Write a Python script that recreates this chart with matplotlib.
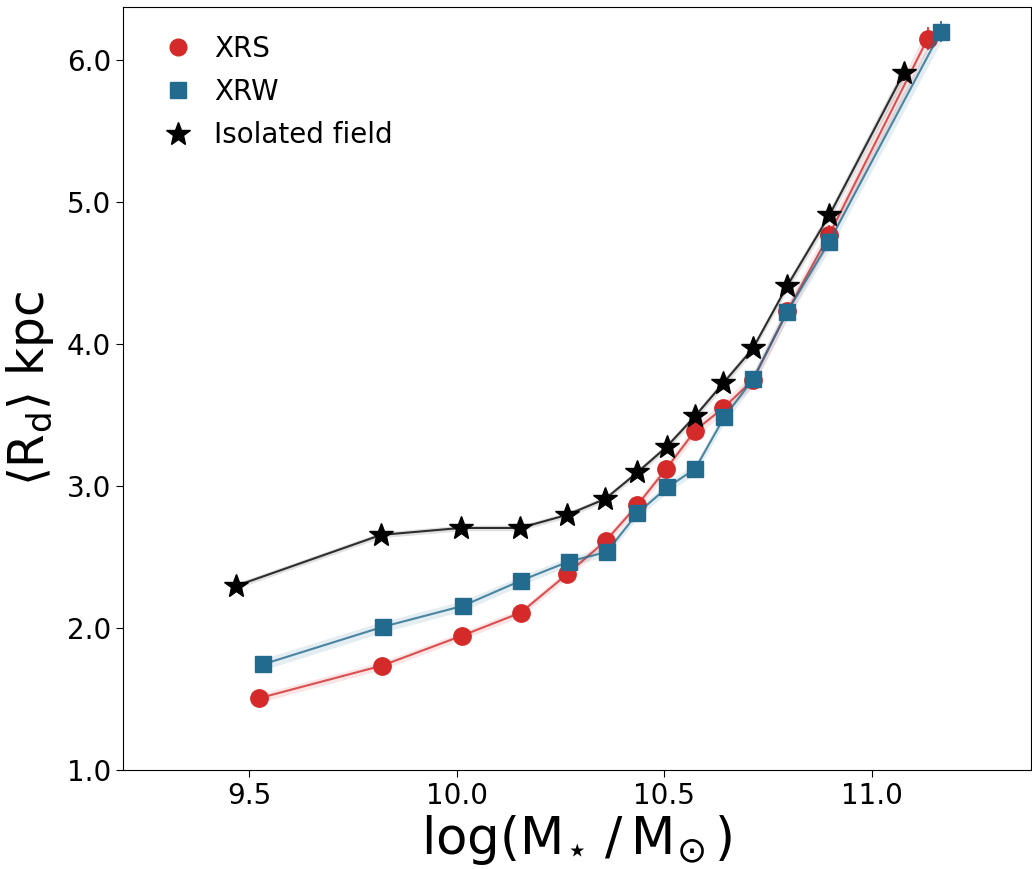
import matplotlib
matplotlib.use("Agg")
import matplotlib.pyplot as plt
import numpy as np
from matplotlib.lines import Line2D

# mean disc scale length per stellar-mass bin
XRS_MASS = [9.524, 9.821, 10.012, 10.155, 10.267, 10.360, 10.436, 10.505,
            10.575, 10.643, 10.714, 10.797, 10.898, 11.135]
XRS_RD = [1.505, 1.735, 1.944, 2.108, 2.380, 2.615, 2.866, 3.120,
          3.390, 3.550, 3.745, 4.230, 4.770, 6.150]
XRS_ERR = [0.030, 0.028, 0.028, 0.028, 0.030, 0.032, 0.035, 0.038,
           0.040, 0.045, 0.050, 0.055, 0.065, 0.080]

XRW_MASS = [9.534, 9.824, 10.015, 10.155, 10.270, 10.362, 10.436, 10.508,
            10.575, 10.645, 10.714, 10.797, 10.898, 11.167]
XRW_RD = [1.744, 2.009, 2.155, 2.333, 2.467, 2.535, 2.808, 2.990,
          3.120, 3.484, 3.750, 4.227, 4.720, 6.200]
XRW_ERR = [0.040, 0.038, 0.036, 0.034, 0.032, 0.032, 0.034, 0.036,
           0.038, 0.042, 0.046, 0.052, 0.060, 0.075]

FIELD_MASS = [9.469, 9.818, 10.010, 10.153, 10.266, 10.358, 10.436, 10.506,
              10.575, 10.643, 10.714, 10.796, 10.898, 11.077]
FIELD_RD = [2.296, 2.655, 2.704, 2.704, 2.796, 2.908, 3.096, 3.275,
            3.492, 3.725, 3.968, 4.405, 4.905, 5.905]
FIELD_ERR = [0.020, 0.020, 0.020, 0.020, 0.020, 0.020, 0.022, 0.024,
             0.026, 0.028, 0.030, 0.034, 0.040, 0.050]

RED, BLUE, BLACK = "#d42a2a", "#236b8e", "#000000"

fig = plt.figure(figsize=(10.32, 8.69), dpi=100)
ax = fig.add_axes([0.119, 0.114, 0.880, 0.878])

series = [
    (XRS_MASS, XRS_RD, XRS_ERR, RED, "o", 12.5),
    (XRW_MASS, XRW_RD, XRW_ERR, BLUE, "s", 11.5),
    (FIELD_MASS, FIELD_RD, FIELD_ERR, BLACK, "*", 18),
]
for z, (m, r, e, col, mk, ms) in enumerate(series):
    m, r, e = np.array(m), np.array(r), np.array(e)
    ax.fill_between(m, r - e, r + e, color=col, alpha=0.12, lw=0, zorder=2 + 3 * z)
    ax.errorbar(m, r, yerr=e, fmt="none", ecolor=col, elinewidth=1.2, zorder=3 + 3 * z)
    ax.plot(m, r, "-", color=col, lw=1.5, alpha=0.8, zorder=3 + 3 * z)
    ax.plot(m, r, mk, color=col, ms=ms, mec=col, zorder=4 + 3 * z)

handles = [
    Line2D([], [], ls="none", marker="o", color=RED, ms=12),
    Line2D([], [], ls="none", marker="s", color=BLUE, ms=11),
    Line2D([], [], ls="none", marker="*", color=BLACK, ms=18),
]
ax.legend(handles, ["XRS", "XRW", "Isolated field"], loc="upper left",
          frameon=False, fontsize=20, handletextpad=0.3, labelspacing=0.55,
          borderaxespad=0.6, bbox_to_anchor=(0.0, 1.0))

ax.set_xlim(9.196, 11.384)
ax.set_ylim(1.0, 6.373)
ax.set_xticks([9.5, 10.0, 10.5, 11.0])
ax.set_yticks([1.0, 2.0, 3.0, 4.0, 5.0, 6.0])
ax.xaxis.set_major_formatter(plt.FormatStrFormatter("%.1f"))
ax.yaxis.set_major_formatter(plt.FormatStrFormatter("%.1f"))
ax.tick_params(labelsize=20, length=5)

ax.set_xlabel(r"$\mathregular{log(M_{\!\star}\,/\,M_{\!\odot})}$", fontsize=37, labelpad=2)
ax.set_ylabel(r"$\langle \mathrm{R_d} \rangle$ kpc", fontsize=35, labelpad=8)

fig.savefig("out.png", dpi=100)
